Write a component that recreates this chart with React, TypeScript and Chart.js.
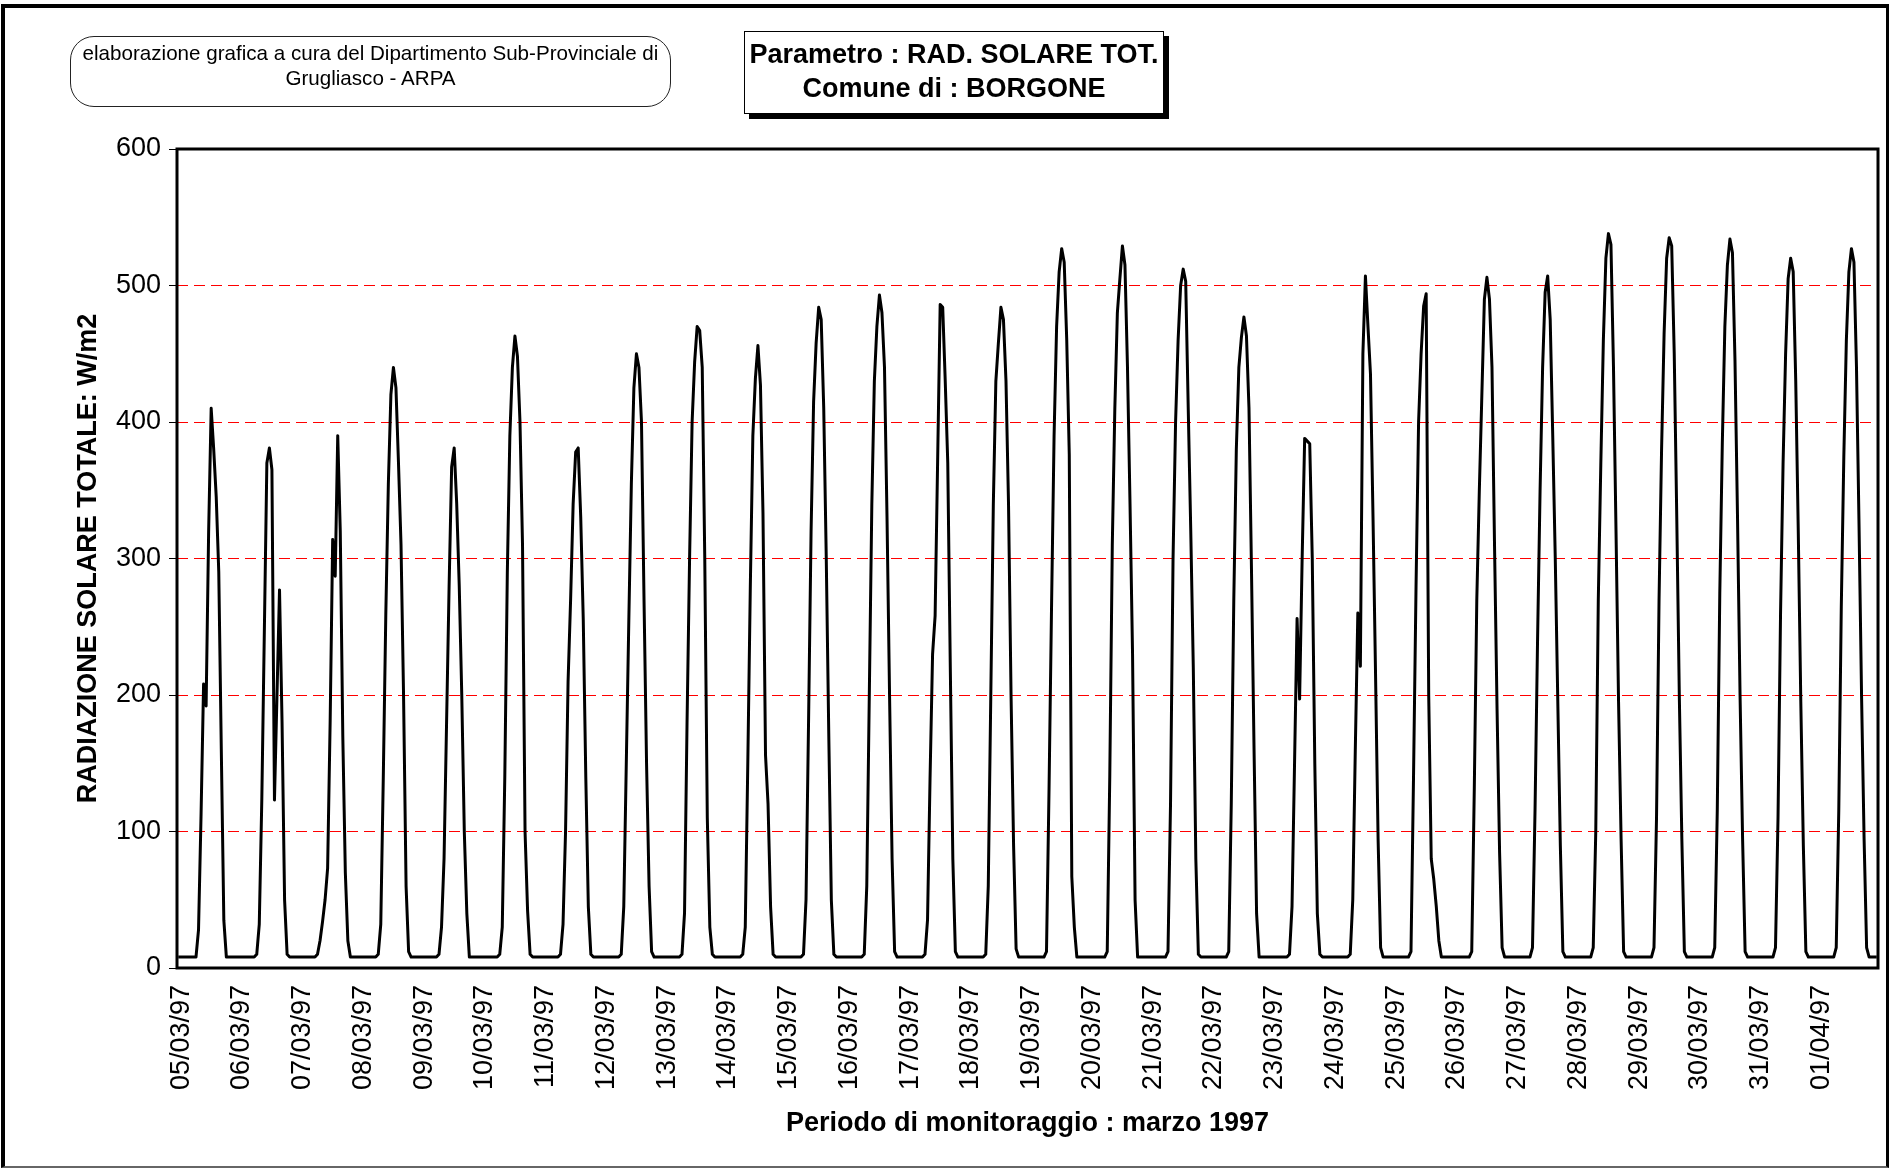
import React, { useEffect, useRef } from "react";
import { Chart, registerables } from "chart.js";

Chart.register(...registerables);

// Day labels on the category axis (one per day, hourly data)
const dayLabels = [
  "05/03/97", "06/03/97", "07/03/97", "08/03/97", "09/03/97", "10/03/97", "11/03/97",
  "12/03/97", "13/03/97", "14/03/97", "15/03/97", "16/03/97", "17/03/97", "18/03/97",
  "19/03/97", "20/03/97", "21/03/97", "22/03/97", "23/03/97", "24/03/97", "25/03/97",
  "26/03/97", "27/03/97", "28/03/97", "29/03/97", "30/03/97", "31/03/97", "01/04/97",
];

const yTicks = [0, 100, 200, 300, 400, 500, 600];

// Hourly total solar radiation (W/m2), hours 00..23 of each day
const mar05 = [8, 8, 8, 8, 8, 8, 8, 8, 28, 112, 208, 192, 320, 410, 380, 345, 290, 160, 35, 8, 8, 8, 8, 8];
const mar06 = [8, 8, 8, 8, 8, 8, 8, 10, 32, 123, 246, 370, 381, 365, 123, 200, 277, 180, 50, 10, 8, 8, 8, 8];
const mar07 = [8, 8, 8, 8, 8, 8, 8, 10, 20, 34, 50, 73, 180, 314, 287, 390, 320, 170, 70, 20, 8, 8, 8, 8];
const mar08 = [8, 8, 8, 8, 8, 8, 8, 10, 32, 140, 260, 355, 420, 440, 425, 370, 310, 200, 60, 12, 8, 8, 8, 8];
const mar09 = [8, 8, 8, 8, 8, 8, 8, 10, 30, 80, 180, 280, 367, 381, 340, 280, 200, 100, 40, 8, 8, 8, 8, 8];
const mar10 = [8, 8, 8, 8, 8, 8, 8, 10, 30, 140, 290, 390, 440, 463, 448, 400, 310, 100, 42, 10, 8, 8, 8, 8];
const mar11 = [8, 8, 8, 8, 8, 8, 8, 10, 32, 100, 210, 270, 340, 378, 381, 330, 255, 140, 45, 10, 8, 8, 8, 8];
const mar12 = [8, 8, 8, 8, 8, 8, 8, 10, 45, 150, 255, 355, 425, 450, 440, 400, 270, 150, 60, 12, 8, 8, 8, 8];
const mar13 = [8, 8, 8, 8, 8, 8, 8, 10, 40, 180, 300, 400, 444, 470, 467, 440, 300, 110, 30, 10, 8, 8, 8, 8];
const mar14 = [8, 8, 8, 8, 8, 8, 8, 10, 30, 150, 280, 390, 432, 456, 427, 333, 156, 120, 45, 10, 8, 8, 8, 8];
const mar15 = [8, 8, 8, 8, 8, 8, 8, 10, 50, 180, 320, 415, 458, 484, 475, 410, 300, 170, 50, 10, 8, 8, 8, 8];
const mar16 = [8, 8, 8, 8, 8, 8, 8, 10, 60, 200, 340, 430, 470, 493, 480, 440, 330, 200, 80, 12, 8, 8, 8, 8];
const mar17 = [8, 8, 8, 8, 8, 8, 8, 10, 35, 139, 230, 258, 372, 486, 484, 430, 370, 220, 80, 12, 8, 8, 8, 8];
const mar18 = [8, 8, 8, 8, 8, 8, 8, 10, 60, 200, 340, 430, 458, 484, 475, 430, 340, 200, 90, 14, 8, 8, 8, 8];
const mar19 = [8, 8, 8, 8, 8, 8, 8, 12, 130, 265, 390, 470, 510, 527, 517, 460, 376, 67, 30, 8, 8, 8, 8, 8];
const mar20 = [8, 8, 8, 8, 8, 8, 8, 12, 140, 310, 410, 480, 505, 529, 515, 440, 340, 230, 50, 8, 8, 8, 8, 8];
const mar21 = [8, 8, 8, 8, 8, 8, 8, 12, 120, 300, 400, 460, 500, 512, 503, 410, 320, 220, 80, 10, 8, 8, 8, 8];
const mar22 = [8, 8, 8, 8, 8, 8, 8, 12, 120, 270, 380, 440, 462, 477, 463, 410, 290, 160, 40, 8, 8, 8, 8, 8];
const mar23 = [8, 8, 8, 8, 8, 8, 8, 10, 45, 150, 256, 197, 300, 388, 386, 384, 300, 150, 40, 10, 8, 8, 8, 8];
const mar24 = [8, 8, 8, 8, 8, 8, 8, 10, 50, 160, 260, 221, 450, 507, 470, 435, 330, 215, 95, 15, 8, 8, 8, 8];
const mar25 = [8, 8, 8, 8, 8, 8, 8, 12, 140, 280, 400, 450, 485, 494, 200, 80, 65, 45, 20, 8, 8, 8, 8, 8];
const mar26 = [8, 8, 8, 8, 8, 8, 8, 12, 130, 270, 350, 420, 490, 506, 490, 440, 310, 190, 85, 15, 8, 8, 8, 8];
const mar27 = [8, 8, 8, 8, 8, 8, 8, 15, 115, 240, 350, 440, 495, 507, 475, 390, 300, 195, 90, 12, 8, 8, 8, 8];
const mar28 = [8, 8, 8, 8, 8, 8, 8, 15, 100, 270, 370, 460, 520, 538, 530, 440, 320, 195, 95, 12, 8, 8, 8, 8];
const mar29 = [8, 8, 8, 8, 8, 8, 8, 15, 110, 270, 380, 465, 520, 535, 529, 450, 330, 200, 95, 12, 8, 8, 8, 8];
const mar30 = [8, 8, 8, 8, 8, 8, 8, 15, 115, 275, 385, 470, 515, 534, 524, 445, 330, 200, 95, 12, 8, 8, 8, 8];
const mar31 = [8, 8, 8, 8, 8, 8, 8, 15, 110, 260, 370, 450, 505, 520, 510, 430, 320, 195, 90, 12, 8, 8, 8, 8];
const apr01 = [8, 8, 8, 8, 8, 8, 8, 15, 115, 265, 375, 460, 510, 527, 517, 440, 325, 200, 95, 15, 8, 8, 8, 8];

const dailySeries = [
  mar05, mar06, mar07, mar08, mar09, mar10, mar11, mar12, mar13, mar14,
  mar15, mar16, mar17, mar18, mar19, mar20, mar21, mar22, mar23, mar24,
  mar25, mar26, mar27, mar28, mar29, mar30, mar31, apr01,
];

const radiation = dailySeries.flat();
const hourLabels = dayLabels.flatMap((d) => Array.from({ length: 24 }, (_, h) => `${d} ${h}:00`));

const SANS = "'Liberation Sans', Arial, Helvetica, sans-serif";

const W = 1890;
const H = 1169;
const PLOT = { left: 177, right: 1878, top: 149, bottom: 968 };

export default function App() {
  const canvasRef = useRef<HTMLCanvasElement | null>(null);

  useEffect(() => {
    const canvas = canvasRef.current;
    if (!canvas) return;

    const framePlugin = {
      id: "plotFrame",
      afterDatasetsDraw(chart: any) {
        const { ctx, chartArea } = chart;
        ctx.save();
        ctx.strokeStyle = "#000";
        ctx.lineWidth = 3;
        ctx.strokeRect(
          chartArea.left,
          chartArea.top,
          chartArea.right - chartArea.left,
          chartArea.bottom - chartArea.top
        );
        ctx.restore();
      },
    };

    const chart = new Chart(canvas, {
      type: "line",
      data: {
        labels: hourLabels,
        datasets: [
          {
            data: radiation,
            borderColor: "#000",
            borderWidth: 3,
            pointRadius: 0,
            pointHoverRadius: 0,
            tension: 0,
            fill: false,
            borderJoinStyle: "round",
          },
        ],
      },
      options: {
        animation: false,
        responsive: false,
        maintainAspectRatio: false,
        devicePixelRatio: 1,
        layout: {
          padding: { left: 0, top: PLOT.top, right: W - PLOT.right, bottom: 0 },
        },
        plugins: {
          legend: { display: false },
          tooltip: { enabled: false },
          title: { display: false },
        },
        scales: {
          x: {
            type: "category",
            offset: true,
            grid: { display: false, drawTicks: false },
            border: { display: false },
            ticks: {
              autoSkip: false,
              minRotation: 90,
              maxRotation: 90,
              padding: 17,
              labelOffset: 3,
              color: "#000",
              font: { family: SANS, size: 27 },
              callback: (_v: any, i: number) => (i % 24 === 0 ? dayLabels[i / 24] : null),
            },
            title: {
              display: true,
              text: "Periodo di monitoraggio : marzo 1997",
              color: "#000",
              font: { family: SANS, size: 27, weight: "bold" },
              padding: { top: 0, bottom: 29 },
            },
            afterFit: (s: any) => {
              s.height = H - PLOT.bottom;
              s.paddingLeft = 0;
              s.paddingRight = 0;
            },
          },
          y: {
            type: "linear",
            min: yTicks[0],
            max: yTicks[yTicks.length - 1],
            afterBuildTicks: (s: any) => {
              s.ticks = yTicks.map((v) => ({ value: v }));
            },
            grid: {
              color: "#ff0000",
              lineWidth: 1,
              tickColor: "#000",
              tickLength: 8,
              tickWidth: 1,
              tickBorderDash: [],
            },
            border: { display: false, dash: [11, 6] },
            ticks: {
              padding: 8,
              color: "#000",
              font: { family: SANS, size: 27 },
            },
            title: {
              display: true,
              text: "RADIAZIONE SOLARE TOTALE: W/m2",
              color: "#000",
              font: { family: SANS, size: 27, weight: "bold" },
              padding: { top: 72, bottom: 0 },
            },
            afterFit: (s: any) => {
              s.width = PLOT.left;
            },
          },
        },
      },
      plugins: [framePlugin],
    } as any);

    return () => chart.destroy();
  }, []);

  return (
    <div
      style={{
        position: "fixed",
        left: 0,
        top: 0,
        width: W,
        height: H,
        background: "#fff",
        overflow: "hidden",
      }}
    >
      <div
        style={{
          position: "absolute",
          left: 1,
          top: 4,
          width: 1888,
          height: 1164,
          boxSizing: "border-box",
          borderTop: "4px solid #000",
          borderLeft: "4px solid #000",
          borderRight: "3px solid #000",
          borderBottom: "2px solid #666",
        }}
      />
      <canvas
        ref={canvasRef}
        width={W}
        height={H}
        style={{ position: "absolute", left: 0, top: 0, width: W, height: H }}
      />
      <div
        style={{
          position: "absolute",
          left: 70,
          top: 36,
          width: 601,
          height: 71,
          boxSizing: "border-box",
          border: "1px solid #222",
          borderRadius: 24,
          background: "#fff",
          display: "flex",
          flexDirection: "column",
          justifyContent: "flex-start",
          alignItems: "center",
          paddingTop: 3,
          fontFamily: SANS,
          fontSize: 20.6,
          lineHeight: "25px",
          color: "#000",
          textAlign: "center",
          whiteSpace: "nowrap",
        }}
      >
        <div>elaborazione grafica a cura del Dipartimento Sub-Provinciale di</div>
        <div>Grugliasco - ARPA</div>
      </div>
      <div
        style={{
          position: "absolute",
          left: 744,
          top: 31,
          width: 420,
          height: 83,
          boxSizing: "border-box",
          border: "1px solid #000",
          background: "#fff",
          boxShadow: "5px 5px 0 #000",
          display: "flex",
          flexDirection: "column",
          justifyContent: "flex-start",
          alignItems: "center",
          paddingTop: 5,
          fontFamily: SANS,
          fontSize: 27,
          fontWeight: "bold",
          lineHeight: "34px",
          color: "#000",
          textAlign: "center",
          whiteSpace: "nowrap",
        }}
      >
        <div>Parametro : RAD. SOLARE TOT.</div>
        <div>Comune di : BORGONE</div>
      </div>
    </div>
  );
}
